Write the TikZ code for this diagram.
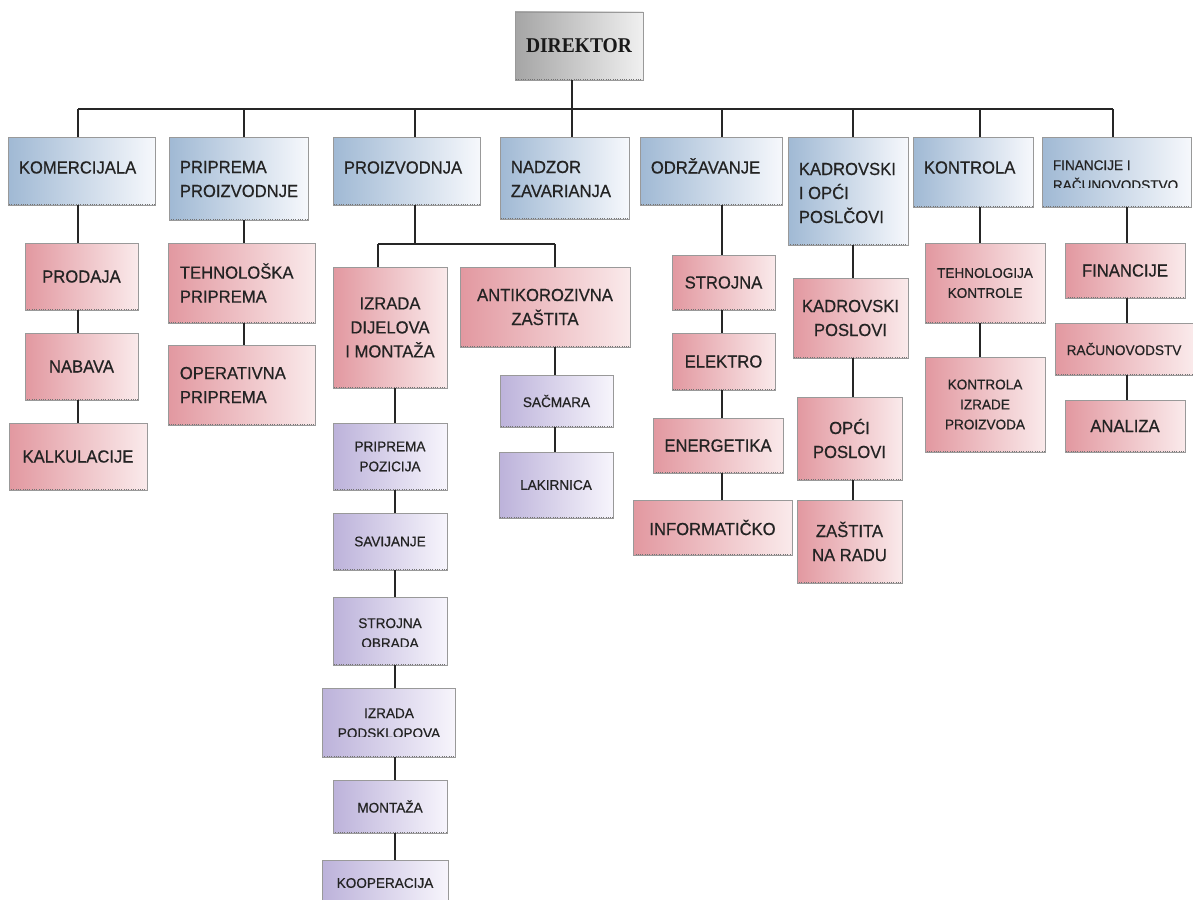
\documentclass[tikz,border=0pt]{standalone}
\usepackage{fontspec}
\setmainfont{Liberation Sans}
\newfontfamily\fBig[FakeStretch=0.95,FakeBold=0.5]{Liberation Sans}
\newfontfamily\fSmall[FakeStretch=0.97,FakeBold=0.5]{Liberation Sans}
\newfontfamily\fDir[FakeStretch=0.93]{Liberation Serif}
\usetikzlibrary{fit}
\definecolor{bdark}{RGB}{160,185,212}
\definecolor{blight}{RGB}{246,248,252}
\definecolor{rdark}{RGB}{226,152,160}
\definecolor{rlight}{RGB}{250,234,235}
\definecolor{pdark}{RGB}{188,178,218}
\definecolor{plight}{RGB}{247,245,252}
\definecolor{gdark}{RGB}{165,165,165}
\definecolor{glight}{RGB}{240,240,240}
\definecolor{txtc}{RGB}{35,35,35}
\tikzset{
  boxbase/.style={draw=black!40, line width=0.6pt, inner sep=0pt,
    path picture={\draw[black!55, line width=2.4pt, dash pattern=on 1pt off 1.3pt]
      (path picture bounding box.north west) -- (path picture bounding box.south west)
      -- (path picture bounding box.south east);}},
  bluebox/.style={boxbase, left color=bdark, right color=blight},
  redbox/.style={boxbase, left color=rdark, right color=rlight},
  purplebox/.style={boxbase, left color=pdark, right color=plight},
  graybox/.style={boxbase, left color=gdark, right color=glight},
  big/.style={font=\fBig\fontsize{17.5}{24}\selectfont, text=txtc, inner sep=0pt},
  small/.style={font=\fSmall\fontsize{14}{20}\selectfont, text=txtc, inner sep=0pt},
  dirtxt/.style={font=\fDir\bfseries\fontsize{21}{25}\selectfont, text=black!90, inner sep=0pt},
  conn/.style={draw=black!85, line width=1.4pt}
}
% left aligned text, #8 = baseline (y) of the LAST line
\newcommand\boxT[9]{%
  \node[#1, fit={(#4,#5) (#6,#7)}] (#3) {};
  \node[#2, anchor=base west, align=left] (#3-t) at ([xshift=11pt]#3.west |- 0,#8) {#9};}
% vertically centred, left aligned
\newcommand\boxL[8]{%
  \node[#1, fit={(#4,#5) (#6,#7)}] (#3) {};
  \node[#2, anchor=west, align=left] (#3-t) at ([xshift=12pt]#3.west) {#8};}
% centred
\newcommand\boxC[8]{%
  \node[#1, fit={(#4,#5) (#6,#7)}] (#3) {};
  \node[#2, align=center] (#3-t) at (#3.center) {#8};}
\newcommand\link[3]{\draw[conn] (#1.south -| #3) -- (#2.north -| #3);}

\begin{document}
\begin{tikzpicture}[x=1pt,y=-1pt]
\useasboundingbox (0,0) rectangle (1193,899);
\clip (0,0) rectangle (1193,899);

% ---------- boxes ----------
\node[graybox, fit={(515,12) (643,80)}] (dir) {};
\node[dirtxt] (dir-t) at (dir.center) {DIREKTOR};

\boxT{bluebox}{big}{kom}{8}{137}{155}{205}{173.5}{KOMERCIJALA}
\boxT{bluebox}{big}{prip}{169}{137}{308}{220}{197}{PRIPREMA\\PROIZVODNJE}
\boxT{bluebox}{big}{proiz}{333}{137}{480}{205}{173.5}{PROIZVODNJA}
\boxT{bluebox}{big}{nad}{500}{137}{629}{219}{197}{NADZOR\\ZAVARIANJA}
\boxT{bluebox}{big}{odr}{640}{137}{782}{205}{173.5}{ODRŽAVANJE}
\boxT{bluebox}{big}{kad}{788}{137}{908}{245}{223}{KADROVSKI\\I OPĆI\\POSLČOVI}
\boxT{bluebox}{big}{kont}{913}{137}{1033}{207}{173.5}{KONTROLA}
\node[bluebox, fit={(1042,137) (1191,207)}] (fin) {};
\begin{scope}
  \clip (1042,137) rectangle (1191,187.5);
  \node[small, anchor=base west, align=left] (fin-t) at ([xshift=11pt]fin.west |- 0,190) {FINANCIJE I\\RAČUNOVODSTVO};
\end{scope}

% column 1
\boxC{redbox}{big}{prod}{25}{243}{138}{310}{PRODAJA}
\boxC{redbox}{big}{nab}{25}{333}{138}{400}{NABAVA}
\boxC{redbox}{big}{kalk}{9}{423}{147}{490}{KALKULACIJE}
% column 2
\boxL{redbox}{big}{teh}{168}{243}{315}{323}{TEHNOLOŠKA\\PRIPREMA}
\boxL{redbox}{big}{oper}{168}{345}{315}{425}{OPERATIVNA\\PRIPREMA}
% column 3
\boxC{redbox}{big}{izr}{333}{267}{447}{388}{IZRADA\\DIJELOVA\\I MONTAŽA}
\boxC{redbox}{big}{anti}{460}{267}{630}{347}{ANTIKOROZIVNA\\ZAŠTITA}
\boxC{purplebox}{small}{sac}{500}{375}{613}{427}{SAČMARA}
\boxC{purplebox}{small}{lak}{499}{452}{613}{518}{LAKIRNICA}
\boxC{purplebox}{small}{ppoz}{333}{423}{447}{490}{PRIPREMA\\POZICIJA}
\boxC{purplebox}{small}{sav}{333}{513}{447}{570}{SAVIJANJE}
\node[purplebox, fit={(333,597) (447,665)}] (strobr) {};
\begin{scope}
  \clip (333,597) rectangle (447,646);
  \node[small, anchor=base, align=center] (strobr-t) at (390,648) {STROJNA\\OBRADA};
\end{scope}
\node[purplebox, fit={(322,688) (455,757)}] (izpod) {};
\begin{scope}
  \clip (322,688) rectangle (455,736);
  \node[small, anchor=base, align=center] (izpod-t) at (389,738) {IZRADA\\PODSKLOPOVA};
\end{scope}
\boxC{purplebox}{small}{mont}{333}{780}{447}{833}{MONTAŽA}
\node[purplebox, fit={(322,860) (448,910)}] (koop) {};
\node[small] (koop-t) at (385,883) {KOOPERACIJA};
% column 5
\boxC{redbox}{big}{stroj}{672}{255}{775}{310}{STROJNA}
\boxC{redbox}{big}{elek}{672}{333}{775}{390}{ELEKTRO}
\boxC{redbox}{big}{energ}{653}{418}{783}{473}{ENERGETIKA}
\boxC{redbox}{big}{inform}{633}{500}{792}{555}{INFORMATIČKO}
% column 6
\boxC{redbox}{big}{kadpos}{793}{278}{908}{358}{KADROVSKI\\POSLOVI}
\boxC{redbox}{big}{opci}{797}{397}{902}{480}{OPĆI\\POSLOVI}
\boxC{redbox}{big}{zast}{797}{500}{902}{583}{ZAŠTITA\\NA RADU}
% column 7
\boxC{redbox}{small}{tehk}{925}{243}{1045}{323}{TEHNOLOGIJA\\KONTROLE}
\boxC{redbox}{small}{kontiz}{925}{357}{1045}{452}{KONTROLA\\IZRADE\\PROIZVODA}
% column 8
\boxC{redbox}{big}{finan}{1065}{243}{1185}{298}{FINANCIJE}
\boxC{redbox}{small}{racun}{1055}{323}{1193}{375}{RAČUNOVODSTV}
\boxC{redbox}{big}{anal}{1065}{400}{1185}{452}{ANALIZA}

% ---------- connector coordinates ----------
\coordinate (cx-dir) at (572,109);
\coordinate (cx-kom) at (78,109);
\coordinate (cx-prip) at (244,109);
\coordinate (cx-proiz) at (415,109);
\coordinate (cx-nad) at (572,109);
\coordinate (cx-odr) at (722,109);
\coordinate (cx-kad) at (853,109);
\coordinate (cx-kont) at (980,109);
\coordinate (cx-fin) at (1113,109);
\coordinate (cx-finl) at (1127,109);
\coordinate (sb-l) at (378,244);
\coordinate (sb-r) at (555,244);
\coordinate (cx-izr) at (395,244);

% ---------- connectors ----------
\draw[conn] (dir.south -| cx-dir) -- (cx-dir);
\draw[conn] (cx-kom) -- (cx-fin);
\foreach \c/\n in {kom/kom, prip/prip, proiz/proiz, nad/nad, odr/odr, kad/kad, kont/kont, fin/fin}
  \draw[conn] (cx-\c) -- (cx-\c |- \n.north);

\link{kom}{prod}{cx-kom}
\link{prod}{nab}{cx-kom}
\link{nab}{kalk}{cx-kom}

\link{prip}{teh}{cx-prip}
\link{teh}{oper}{cx-prip}

\draw[conn] (proiz.south -| cx-proiz) -- (cx-proiz |- sb-l);
\draw[conn] (sb-l) -- (sb-r);
\draw[conn] (sb-l) -- (sb-l |- izr.north);
\draw[conn] (sb-r) -- (sb-r |- anti.north);
\link{anti}{sac}{sb-r}
\link{sac}{lak}{sb-r}
\link{izr}{ppoz}{cx-izr}
\link{ppoz}{sav}{cx-izr}
\link{sav}{strobr}{cx-izr}
\link{strobr}{izpod}{cx-izr}
\link{izpod}{mont}{cx-izr}
\link{mont}{koop}{cx-izr}

\link{odr}{stroj}{cx-odr}
\link{stroj}{elek}{cx-odr}
\link{elek}{energ}{cx-odr}
\link{energ}{inform}{cx-odr}

\link{kad}{kadpos}{cx-kad}
\link{kadpos}{opci}{cx-kad}
\link{opci}{zast}{cx-kad}

\link{kont}{tehk}{cx-kont}
\link{tehk}{kontiz}{cx-kont}

\link{fin}{finan}{cx-finl}
\link{finan}{racun}{cx-finl}
\link{racun}{anal}{cx-finl}
\end{tikzpicture}
\end{document}
